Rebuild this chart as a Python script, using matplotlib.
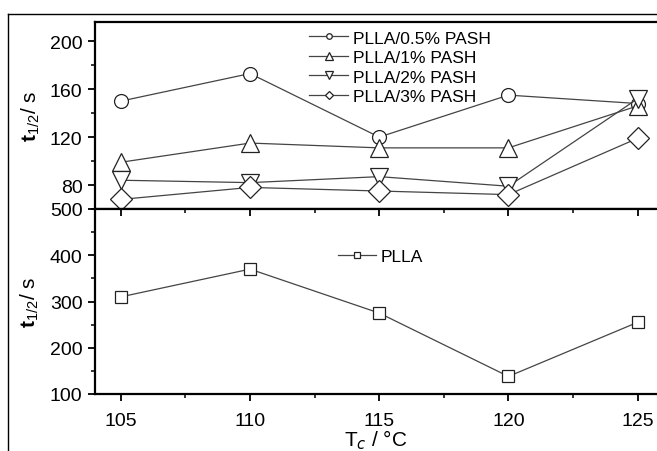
import matplotlib
matplotlib.use('Agg')
import matplotlib.pyplot as plt
from matplotlib.lines import Line2D
from matplotlib.ticker import MultipleLocator

plt.rcParams['font.family'] = ['Liberation Sans', 'DejaVu Sans']
plt.rcParams['mathtext.fontset'] = 'custom'
plt.rcParams['mathtext.rm'] = 'Liberation Sans'
plt.rcParams['mathtext.bf'] = 'Liberation Sans:bold'

# data
temps = [105, 110, 115, 120, 125]
pash_05 = [150, 173, 120, 155, 148]
pash_1 = [99, 115, 111, 111, 146]
pash_2 = [84, 82, 87, 79, 152]
pash_3 = [68, 78, 75, 72, 119]
plla = [310, 370, 275, 138, 255]

top_series = [
    ('PLLA/0.5% PASH', pash_05, 'o', 10),
    ('PLLA/1% PASH', pash_1, '^', 13),
    ('PLLA/2% PASH', pash_2, 'v', 13),
    ('PLLA/3% PASH', pash_3, 'D', 11),
]

fig = plt.figure(figsize=(6.57, 4.52), dpi=100)

x0 = 95 / 657
ax_top = fig.add_axes([x0, 1 - 210 / 452, 1 - x0, (210 - 23) / 452])
ax_bot = fig.add_axes([x0, 1 - 395 / 452, 1 - x0, (395 - 210) / 452])

line_c = '#444444'
edge_c = '#222222'

for label, vals, mk, ms in top_series:
    ax_top.plot(temps, vals, color=line_c, lw=0.9, marker=mk, ms=ms,
                mfc='white', mec=edge_c, mew=0.9, label=label)

ax_bot.plot(temps, plla, color=line_c, lw=0.9, marker='s', ms=9,
            mfc='white', mec=edge_c, mew=0.9, label='PLLA')

for ax in (ax_top, ax_bot):
    ax.set_xlim(104, 125.75)
    ax.spines['right'].set_visible(False)
    for s in ('left', 'top', 'bottom'):
        ax.spines[s].set_linewidth(1.6)
    ax.tick_params(axis='both', which='major', labelsize=14, width=1.3, length=5, pad=4)
    ax.tick_params(axis='both', which='minor', width=1.1, length=3)
    ax.xaxis.set_major_locator(MultipleLocator(5))
    ax.xaxis.set_minor_locator(MultipleLocator(2.5))

# top panel
ax_top.set_ylim(60, 216)
ax_top.set_yticks([80, 120, 160, 200])
ax_top.yaxis.set_minor_locator(MultipleLocator(20))
ax_top.tick_params(axis='x', which='both', bottom=False, labelbottom=False)
ax_top.set_ylabel(r'$\mathbf{t}_{1/2}$/ s', fontsize=15, labelpad=6)

# bottom panel
ax_bot.set_ylim(100, 500)
ax_bot.set_yticks([100, 200, 300, 400, 500])
ax_bot.yaxis.set_minor_locator(MultipleLocator(50))
ax_bot.tick_params(axis='x', which='both', top=True)
ax_bot.tick_params(axis='x', which='major', pad=8)
for t in ax_bot.xaxis.get_major_ticks() + ax_bot.xaxis.get_minor_ticks():
    t.tick2line.set_marker(3)
ax_bot.set_ylabel(r'$\mathbf{t}_{1/2}$/ s', fontsize=15, labelpad=6)
ax_bot.set_xlabel(r'T$_c$ / °C', fontsize=15, labelpad=-1)

ax_top.legend(loc='upper left', bbox_to_anchor=(0.36, 1.02), frameon=False,
              fontsize=12.5, markerscale=0.4, handlelength=2.2,
              handletextpad=0.3, labelspacing=0.25, borderpad=0.2)
ax_bot.legend(loc='upper left', bbox_to_anchor=(0.41, 0.85), frameon=False,
              fontsize=12.5, markerscale=0.5, handlelength=2.2,
              handletextpad=0.3, borderpad=0.2)

# outer frame
fig.add_artist(Line2D([8 / 657, 8 / 657], [0, 1 - 15 / 452], color='black', lw=1.0))
fig.add_artist(Line2D([8 / 657, 1], [1 - 15 / 452, 1 - 15 / 452], color='black', lw=1.0))

fig.savefig('out.png', dpi=100)
